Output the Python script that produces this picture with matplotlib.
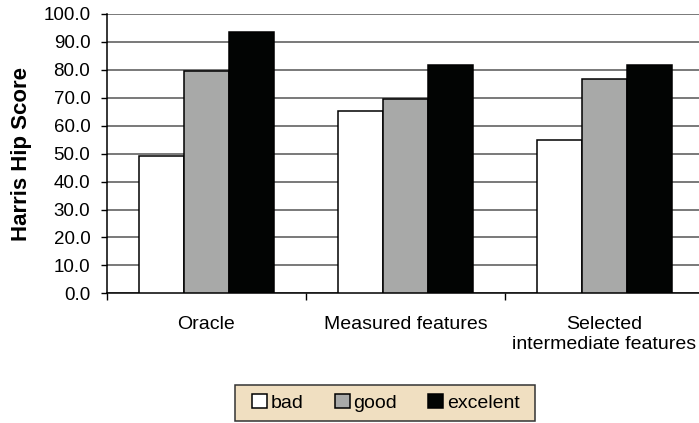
import numpy as np
import matplotlib
matplotlib.use('Agg')
import matplotlib.pyplot as plt
from matplotlib.patches import Patch, Rectangle

plt.rcParams['font.family'] = ['Liberation Sans', 'DejaVu Sans']

categories = ['Oracle', 'Measured features', 'Selected\nintermediate features']
series = ['bad', 'good', 'excelent']
bad = [49.3, 65.4, 54.8]
good = [79.6, 69.5, 76.6]
excelent = [93.4, 81.7, 81.7]
colors = ['#ffffff', '#a8a9a8', '#020403']
yticks = [0, 10, 20, 30, 40, 50, 60, 70, 80, 90, 100]

W, H = 699, 423
fig = plt.figure(figsize=(W / 100, H / 100), dpi=100)
ax = fig.add_axes([107 / W, (H - 293.3) / H, (704 - 107) / W, (293.3 - 14) / H])

x = np.arange(len(categories))
bw = 0.225
for i, (vals, c) in enumerate(zip([bad, good, excelent], colors)):
    ax.bar(x + (i - 1) * bw, vals, bw, color=c, edgecolor='black',
           linewidth=1.1, zorder=3, label=series[i])

ax.set_xlim(-0.5, len(categories) - 0.5)
ax.set_ylim(0, 100)
ax.set_yticks(yticks)
ax.set_yticklabels([f'{v:.1f}' for v in yticks], fontsize=13.5)
ax.yaxis.grid(True, color='#555555', linewidth=1.1, zorder=0)
ax.set_axisbelow(True)

ax.set_xticks(x)
ax.set_xticklabels(categories, fontsize=14, linespacing=1.3)
ax.tick_params(axis='x', length=0, pad=16)
ax.set_xticks(np.arange(-0.5, len(categories), 1), minor=True)
ax.tick_params(axis='x', which='minor', length=5, width=1, color='black', direction='out')
ax.tick_params(axis='y', length=4, width=1, direction='out', pad=8)

for s in ['top', 'right']:
    ax.spines[s].set_visible(False)
for s in ['left', 'bottom']:
    ax.spines[s].set_color('black')
    ax.spines[s].set_linewidth(1.1)

ax.set_ylabel('Harris Hip Score', fontsize=16, fontweight='bold', labelpad=8)

# legend box drawn by hand so the side padding can differ from the top/bottom one
fig.patches.append(Rectangle((235 / W, (H - 421) / H), 300 / W, 36 / H,
                             transform=fig.transFigure, facecolor='#f0dfc1',
                             edgecolor='#333333', linewidth=1.1, zorder=0))
handles = [Patch(facecolor=c, edgecolor='black', linewidth=1.1) for c in colors]
leg = fig.legend(handles, series, loc='center', bbox_to_anchor=(386 / W, (H - 403) / H),
                 ncol=3, fontsize=14, frameon=False,
                 handlelength=0.75, handleheight=0.75, handletextpad=0.2,
                 columnspacing=1.6, borderpad=0.35)

fig.savefig('out.png', dpi=100)
